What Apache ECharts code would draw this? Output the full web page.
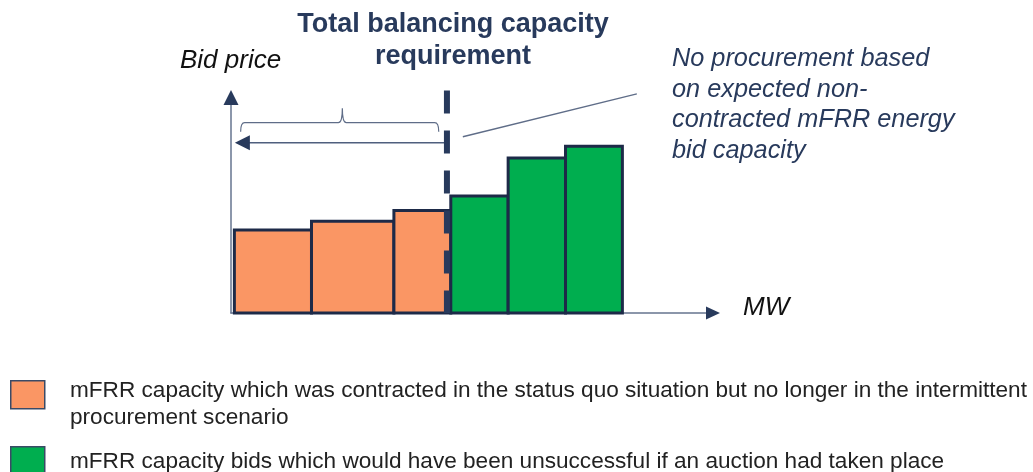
<!DOCTYPE html>
<html>
<head>
<meta charset="utf-8">
<script src="https://cdn.jsdelivr.net/npm/echarts@6/dist/echarts.min.js"></script>
<style>
  html, body { margin: 0; padding: 0; background: #fff; }
  #chart { width: 1033px; height: 472px; }
</style>
</head>
<body>
<div id="chart"></div>
<script>
// bid ladder (schematic, arbitrary units)
const firstBidStart = 0.7;
const bidVolumes = [16.0, 17.1, 11.8, 11.9, 11.9, 11.8];
const bidPrices = [38.4, 42.5, 47.4, 54.2, 71.8, 77.2];
const bidGroups = ['contracted', 'contracted', 'contracted', 'unsuccessful', 'unsuccessful', 'unsuccessful'];

// capacity requirement and annotation anchors
const requirementMW = 44.8;
const requirementTop = 103;
const arrowLevel = 78.8;
const arrowTipMW = 0.8;
const braceLeft = 2.0, braceRight = 43.1, braceMid = 23.1;
const braceEnd = 83.9, braceBar = 88.1, bracePeak = 94.8;
const pointerFrom = [48.1, 81.6];
const pointerTo = [84.2, 101.4];

const titleText = 'Total balancing capacity\nrequirement';
const yName = 'Bid price';
const xName = 'MW';
const noteText = 'No procurement based\non expected non-\ncontracted mFRR energy\nbid capacity';
const legendContracted = 'mFRR capacity which was contracted in the status quo situation but no longer in the intermittent\nprocurement scenario';
const legendUnsuccessful = 'mFRR capacity bids which would have been unsuccessful if an auction had taken place';

const NAVY = '#283a5c';
const BORDER = '#1d2a48';
const ORANGE = '#fa9664';
const GREEN = '#00ae4f';
const AXIS = '#66748f';

// build [x0, x1, price] rows per group
const rows = { contracted: [], unsuccessful: [] };
let edge = firstBidStart;
bidVolumes.forEach((v, i) => {
  rows[bidGroups[i]].push([edge, edge + v, bidPrices[i]]);
  edge += v;
});

function renderBar(params, api) {
  const topLeft = api.coord([api.value(0), api.value(2)]);
  const bottomRight = api.coord([api.value(1), 0]);
  return {
    type: 'rect',
    shape: { x: topLeft[0], y: topLeft[1], width: bottomRight[0] - topLeft[0], height: bottomRight[1] - topLeft[1] },
    style: { fill: api.visual('color'), stroke: BORDER, lineWidth: 3 }
  };
}

function renderNotes(params, api) {
  const dTop = api.coord([requirementMW, requirementTop]);
  const dBot = api.coord([requirementMW, 0]);
  const aTip = api.coord([arrowTipMW, arrowLevel]);
  const aEnd = api.coord([requirementMW, arrowLevel]);
  const bl = api.coord([braceLeft, braceEnd]);
  const blt = api.coord([braceLeft, braceBar]);
  const br = api.coord([braceRight, braceEnd]);
  const brt = api.coord([braceRight, braceBar]);
  const bm = api.coord([braceMid, braceBar]);
  const bp = api.coord([braceMid, bracePeak]);
  const p1 = api.coord(pointerFrom);
  const p2 = api.coord(pointerTo);
  const yEnd = api.coord([0, 100]);
  const xEnd = api.coord([100, 0]);
  const r = 4;
  const bracePath =
    'M' + bl[0] + ',' + bl[1] +
    ' Q' + blt[0] + ',' + blt[1] + ' ' + (blt[0] + r) + ',' + blt[1] +
    ' L' + (bm[0] - r) + ',' + bm[1] +
    ' Q' + bm[0] + ',' + bm[1] + ' ' + bp[0] + ',' + bp[1] +
    ' Q' + bm[0] + ',' + bm[1] + ' ' + (bm[0] + r) + ',' + bm[1] +
    ' L' + (brt[0] - r) + ',' + brt[1] +
    ' Q' + brt[0] + ',' + brt[1] + ' ' + br[0] + ',' + br[1];
  return {
    type: 'group',
    children: [
      // axis arrow heads
      { type: 'polygon', shape: { points: [[yEnd[0], yEnd[1] - 7], [yEnd[0] - 7.5, yEnd[1] + 8], [yEnd[0] + 7.5, yEnd[1] + 8]] }, style: { fill: NAVY } },
      { type: 'polygon', shape: { points: [[xEnd[0] + 7, xEnd[1]], [xEnd[0] - 7, xEnd[1] - 6.5], [xEnd[0] - 7, xEnd[1] + 6.5]] }, style: { fill: NAVY } },
      { type: 'path', shape: { pathData: bracePath }, style: { fill: null, stroke: '#5f6d88', lineWidth: 1.2 } },
      { type: 'line', shape: { x1: aTip[0] + 14, y1: aTip[1], x2: aEnd[0], y2: aEnd[1] }, style: { stroke: '#4f5f7e', lineWidth: 1.5 } },
      { type: 'polygon', shape: { points: [[aTip[0], aTip[1]], [aTip[0] + 15, aTip[1] - 7.5], [aTip[0] + 15, aTip[1] + 7.5]] }, style: { fill: NAVY } },
      { type: 'line', shape: { x1: p1[0], y1: p1[1], x2: p2[0], y2: p2[1] }, style: { stroke: '#5f6d88', lineWidth: 1.3 } },
      { type: 'line', shape: { x1: dTop[0], y1: dTop[1], x2: dBot[0], y2: dBot[1] }, style: { stroke: NAVY, lineWidth: 6, lineDash: [23, 17] } }
    ]
  };
}

const chart = echarts.init(document.getElementById('chart'));
chart.setOption({
  animation: false,
  grid: { left: 231, top: 97, width: 482, height: 216 },
  xAxis: {
    type: 'value', min: 0, max: 100,
    axisLine: { show: true, lineStyle: { color: AXIS, width: 1.5 } },
    axisTick: { show: false }, axisLabel: { show: false }, splitLine: { show: false }
  },
  yAxis: {
    type: 'value', min: 0, max: 100,
    axisLine: { show: true, lineStyle: { color: AXIS, width: 1.5 } },
    axisTick: { show: false }, axisLabel: { show: false }, splitLine: { show: false }
  },
  series: [
    { name: 'contracted', type: 'custom', renderItem: renderBar, itemStyle: { color: ORANGE }, encode: { x: [0, 1], y: 2 }, data: rows.contracted, z: 2 },
    { name: 'unsuccessful', type: 'custom', renderItem: renderBar, itemStyle: { color: GREEN }, encode: { x: [0, 1], y: 2 }, data: rows.unsuccessful, z: 2 },
    { name: 'notes', type: 'custom', renderItem: renderNotes, data: [[0, 0]], clip: false, silent: true, z: 5 }
  ],
  graphic: [
    { type: 'text', x: 453, y: 9, style: { text: titleText, font: 'bold 27px "Liberation Sans", Arial, sans-serif', fill: NAVY, align: 'center', verticalAlign: 'top', lineHeight: 32 } },
    { type: 'text', left: 180, top: 46, style: { text: yName, font: 'italic 26px "Liberation Sans", Arial, sans-serif', fill: '#111', lineHeight: 30 } },
    { type: 'text', left: 743, top: 293, style: { text: xName, font: 'italic 26px "Liberation Sans", Arial, sans-serif', fill: '#111', lineHeight: 30 } },
    { type: 'text', left: 672, top: 44, style: { text: noteText, font: 'italic 25.3px "Liberation Sans", Arial, sans-serif', fill: NAVY, lineHeight: 30.5 } },
    { type: 'rect', left: 10, top: 380, shape: { width: 34, height: 28 }, style: { fill: ORANGE, stroke: '#3a4a66', lineWidth: 1.5 } },
    { type: 'text', left: 70, top: 378, style: { text: legendContracted, font: '22.6px "Liberation Sans", Arial, sans-serif', fill: '#222', lineHeight: 26.3 } },
    { type: 'rect', left: 10, top: 446, shape: { width: 34, height: 28 }, style: { fill: GREEN, stroke: '#3a4a66', lineWidth: 1.5 } },
    { type: 'text', left: 70, top: 449, style: { text: legendUnsuccessful, font: '22.6px "Liberation Sans", Arial, sans-serif', fill: '#222', lineHeight: 26.3 } }
  ]
});
</script>
</body>
</html>
